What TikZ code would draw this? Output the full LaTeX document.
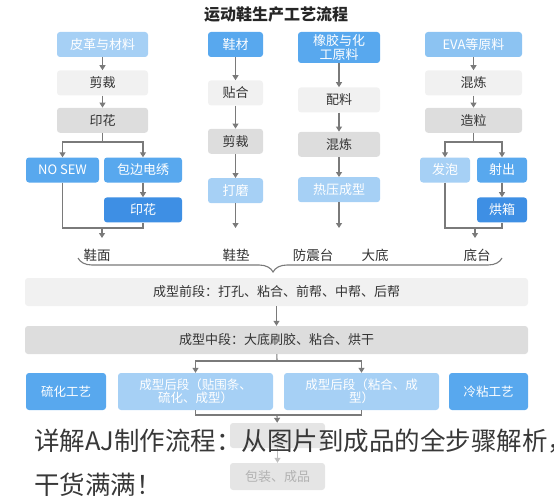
\documentclass[tikz,border=0pt]{standalone}
\usepackage{fontspec}
\newfontfamily\cjk{Noto Sans CJK SC}
\usepackage{tikz}
\usetikzlibrary{positioning, arrows.meta, decorations.pathreplacing}

\definecolor{paleblue}{HTML}{A6D0F5}
\definecolor{evablue}{HTML}{8CC3F2}
\definecolor{midblue}{HTML}{58A8EE}
\definecolor{deepblue}{HTML}{3E8FE4}
\definecolor{palegray}{HTML}{F1F1F1}
\definecolor{midgray}{HTML}{DDDDDD}
\definecolor{fadegray}{HTML}{E5E5E5}
\definecolor{linegray}{HTML}{7A7A7A}
\definecolor{textgray}{HTML}{333333}

\begin{document}
\begin{tikzpicture}[
            x=1pt, y=-1pt,
            node distance = 12pt,
            font = \cjk\fontsize{13}{14}\selectfont,
            box/.style = {shape=rectangle, rounded corners=3pt, minimum height=25pt, inner sep=2pt, align=center},
            palebox/.style = {box, fill=paleblue, text=white},
            evabox/.style = {box, fill=evablue, text=white},
            midbox/.style = {box, fill=midblue, text=white},
            deepbox/.style = {box, fill=deepblue, text=white},
            lightbox/.style = {box, fill=palegray, text=textgray},
            greybox/.style = {box, fill=midgray, text=textgray},
            fadebox/.style = {box, fill=fadegray, text=black!30},
            tall/.style = {minimum height=37pt, font=\cjk\fontsize{12.5}{13}\selectfont},
            wA/.style = {minimum width=91pt},
            wB/.style = {minimum width=55pt},
            wC/.style = {minimum width=82pt},
            wD/.style = {minimum width=97pt},
            wE/.style = {minimum width=50pt},
            wF/.style = {minimum width=503pt, minimum height=28pt, font=\cjk\fontsize{13}{15}\selectfont},
            wG/.style = {minimum width=155pt},
            wH/.style = {minimum width=95pt},
            tag/.style = {text=textgray, inner sep=1pt, font=\cjk\fontsize{13.5}{15}\selectfont},
            caption/.style = {text=black!78, inner sep=0pt, font=\cjk\fontsize{25.5}{30}\selectfont},
            line/.style = {draw=linegray, line width=1.1pt},
            flow/.style = {line, -{Triangle[length=5pt, width=6pt]}},  % filled arrow tip
            ]
            \useasboundingbox (0,0) rectangle (554,500);

            \node[font=\cjk\bfseries\fontsize{16}{18}\selectfont, text=black!85] (title) at (276,14) {运动鞋生产工艺流程};

            % leather column
            \node[palebox, wA] (leather) at (102.5,44.5) {皮革与材料};
            \node[lightbox, wA, below=13pt of leather] (cutA) {剪裁};
            \node[greybox, wA, below=12pt of cutA] (printA) {印花};
            \node[midbox, minimum width=73pt] (nosew) at (62.5,170) {NO SEW};
            \node[midbox, minimum width=78pt] (wrap) at (143,170) {包边电绣};
            \node[deepbox, minimum width=78pt, below=14.5pt of wrap] (printB) {印花};

            % insole column
            \node[midbox, wB] (shoe) at (235.5,44.5) {鞋材};
            \node[lightbox, wB, below=23pt of shoe] (paste) {贴合};
            \node[greybox, wB, below=23pt of paste] (cutB) {剪裁};
            \node[palebox, wB, below=24pt of cutB] (grind) {打磨};

            % rubber column
            \node[midbox, wC, minimum height=31pt] (rubber) at (339,47.5) {橡胶与化\\工原料};
            \node[lightbox, wC, below=24pt of rubber] (batch) {配料};
            \node[greybox, wC, below=19pt of batch] (mixA) {混炼};
            \node[palebox, wC, below=20pt of mixA] (press) {热压成型};

            % EVA column
            \node[evabox, wD] (eva) at (473.5,44.5) {EVA等原料};
            \node[lightbox, wD, below=13pt of eva] (mixB) {混炼};
            \node[greybox, wD, below=12pt of mixB] (pellet) {造粒};
            \node[palebox, wE] (foam) at (445,170) {发泡};
            \node[midbox, wE] (inject) at (502,170) {射出};
            \node[deepbox, wE, below=14.5pt of inject] (oven) {烘箱};

            \node[tag] (upper) at (97,255) {鞋面};
            \node[tag] (insole) at (236,255) {鞋垫};
            \node[tag] (damper) at (313,255) {防震台};
            \node[tag] (sole) at (375,255) {大底};
            \node[tag] (base) at (477,255) {底台};

            % assembly
            \node[lightbox, wF] (front) at (276.5,292) {成型前段：打孔、粘合、前帮、中帮、后帮};
            \node[greybox, wF] (middle) at (276.5,340) {成型中段：大底刷胶、粘合、烘干};
            \node[midbox, tall, minimum width=80pt] (vulc) at (66,391.5) {硫化工艺};
            \node[palebox, tall, wG] (postA) at (195.5,391.5) {成型后段（贴围条、\\硫化、成型）};
            \node[palebox, tall, wG] (postB) at (361.5,391.5) {成型后段（粘合、成\\型）};
            \node[midbox, tall, minimum width=79pt] (cold) at (488.5,391.5) {冷粘工艺};
            \node[fadebox, wH] (check) at (277.5,435.5) {};
            \node[fadebox, wH, minimum height=27pt] (pack) at (277.5,476.5) {包装、成品};

            \coordinate (splitA) at (102.5,142);
            \coordinate (joinA) at (102,228);
            \coordinate (upperIn) at (102,238);
            \coordinate (insoleIn) at (235.5,228);
            \coordinate (pressIn) at (339,228);
            \coordinate (splitB) at (473.5,142);
            \coordinate (joinB) at (475,228);
            \coordinate (baseIn) at (475,238);
            \coordinate (splitC) at (277,361);
            \coordinate (joinC) at (277,415);

            \draw[flow] (leather) -- (cutA);
            \draw[flow] (cutA) -- (printA);
            \draw[line] (printA) -- (splitA);
            \draw[flow] (splitA) -| (nosew);
            \draw[flow] (splitA) -| (wrap);
            \draw[flow] (wrap) -- (printB);
            \draw[line] (nosew) |- (joinA) -| (printB);
            \draw[flow] (joinA) -- (upperIn);

            \draw[flow] (shoe) -- (paste);
            \draw[flow] (paste) -- (cutB);
            \draw[flow] (cutB) -- (grind);
            \draw[flow] (grind) -- (insoleIn);

            \draw[flow] (rubber) -- (batch);
            \draw[flow] (batch) -- (mixA);
            \draw[flow] (mixA) -- (press);
            \draw[flow] (press) -- (pressIn);

            \draw[flow] (eva) -- (mixB);
            \draw[flow] (mixB) -- (pellet);
            \draw[line] (pellet) -- (splitB);
            \draw[flow] (splitB) -| (foam);
            \draw[flow] (splitB) -| (inject);
            \draw[flow] (inject) -- (oven);
            \draw[line] (foam) |- (joinB) -| (oven);
            \draw[flow] (joinB) -- (baseIn);

            \draw[line, decorate, decoration={brace, mirror, amplitude=14pt, aspect=0.46}] (78,258) -- (502,258);

            \draw[flow] (front) -- (middle);
            \draw[line] (middle) -- (splitC);
            \draw[flow] (splitC) -| (postA);
            \draw[flow] (splitC) -| (postB);
            \draw[line] (postA) |- (joinC) -| (postB);
            \draw[flow] (joinC) -- (check);
            \draw[flow, draw=black!25] (check) -- (pack);

            \node[caption, anchor=base west] (captionA) at (34,450) {详解AJ制作流程：从图片到成品的全步骤解析，};
            \node[caption, anchor=base west] (captionB) at (34,494) {干货满满！};
        \end{tikzpicture}
\end{document}
